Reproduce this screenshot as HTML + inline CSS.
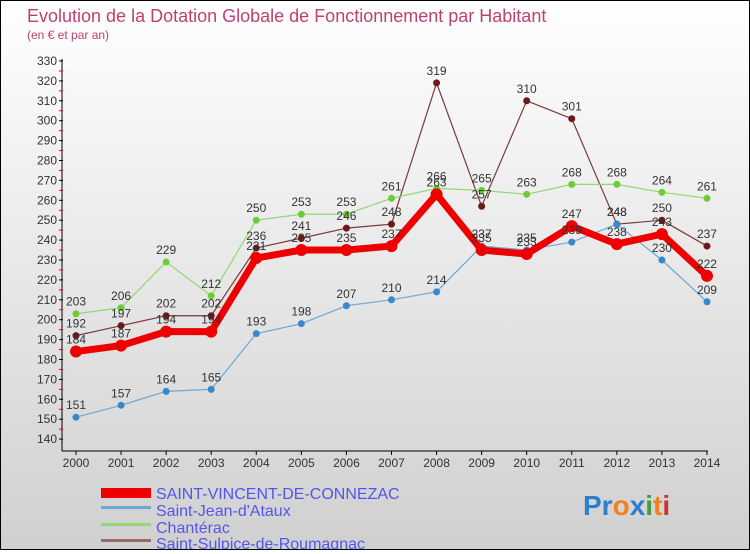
<!DOCTYPE html>
<html><head><meta charset="utf-8"><style>
body{margin:0;width:750px;height:550px;overflow:hidden;font-family:"Liberation Sans",sans-serif}
#wrap{position:relative;width:748px;height:548px;border:1px solid #000;background:linear-gradient(#ffffff,#d0d0d0)}
</style></head><body>
<div id="wrap">
<svg id="chart" width="748" height="548">
<text x="26" y="21" font-size="18" fill="#c0406f">Evolution de la Dotation Globale de Fonctionnement par Habitant</text>
<text x="26" y="38" font-size="12" fill="#c0406f">(en € et par an)</text>
<g id="axes"></g><g id="series"></g><g id="labels"></g>
<g>
<rect x="100" y="487" width="50" height="10" fill="#e00"/>
<text x="155" y="498" font-size="16" fill="#5555ee">SAINT-VINCENT-DE-CONNEZAC</text>
<rect x="100" y="505" width="50" height="3" fill="#6fa7d4"/>
<text x="155" y="515" font-size="16" fill="#5555ee">Saint-Jean-d'Ataux</text>
<rect x="100" y="522" width="50" height="3" fill="#90d870"/>
<text x="155" y="532" font-size="16" fill="#5555ee">Chantérac</text>
<rect x="100" y="538" width="50" height="3" fill="#9a6a6a"/>
<text x="155" y="548" font-size="16" fill="#5555ee">Saint-Sulpice-de-Roumagnac</text>
</g>
<text x="582" y="514" font-size="28" font-weight="bold"><tspan fill="#2a7fd0">Pr</tspan><tspan fill="#f08020">o</tspan><tspan fill="#2a7fd0">x</tspan><tspan fill="#40a040">i</tspan><tspan fill="#f08020">t</tspan><tspan fill="#d03030">i</tspan></text>
</svg></div>
<script>
const years=[2000,2001,2002,2003,2004,2005,2006,2007,2008,2009,2010,2011,2012,2013,2014];
const yTicks=[140,150,160,170,180,190,200,210,220,230,240,250,260,270,280,290,300,310,320,330];
const svc=[184,187,194,194,231,235,235,237,263,235,233,247,238,243,222];
const sja=[151,157,164,165,193,198,207,210,214,237,235,239,248,230,209];
const chan=[203,206,229,212,250,253,253,261,266,265,263,268,268,264,261];
const ssr=[192,197,202,202,236,241,246,248,319,257,310,301,248,250,237];
const NS="http://www.w3.org/2000/svg";
const X=i=>75+i*45.07, Y=v=>60+(330-v)*1.99;
function mk(p,t,a){const e=document.createElementNS(NS,t);for(const k in a)e.setAttribute(k,a[k]);p.appendChild(e);return e;}
const ax=document.getElementById('axes');
let yl=mk(ax,'line',{x1:61,y1:58,x2:61,y2:450,stroke:'#000'});


let xl=mk(ax,'line',{x1:61,y1:450,x2:707,y2:450,stroke:'#000'});


yTicks.forEach(v=>{
 mk(ax,'line',{x1:58,y1:Y(v),x2:62,y2:Y(v),stroke:'#000'});
 if(v<330) mk(ax,'line',{x1:58,y1:Y(v+5),x2:62,y2:Y(v+5),stroke:'#e00'});
 const t=mk(ax,'text',{x:56,y:Y(v)+4,'font-size':12,fill:'#333','text-anchor':'end'});t.textContent=v;
 
 
});
years.forEach((y,i)=>{
 mk(ax,'line',{x1:X(i),y1:450,x2:X(i),y2:454,stroke:'#000'});
 const t=mk(ax,'text',{x:X(i),y:466,'font-size':12,fill:'#333','text-anchor':'middle'});t.textContent=y;
 
 
});
const sg=document.getElementById('series'),lg=document.getElementById('labels');
function draw(data,color,w,r,name,dot){
 const pl=mk(sg,'polyline',{points:data.map((v,i)=>X(i)+','+Y(v)).join(' '),fill:'none',stroke:color,'stroke-width':w,'stroke-linejoin':'round'});
 
 
 data.forEach((v,i)=>{
  const c=mk(sg,'circle',{cx:X(i),cy:Y(v),r:r,fill:dot||color});
  
  
  const t=mk(lg,'text',{x:X(i),y:Y(v)-8,'font-size':12,fill:'#333','text-anchor':'middle'});t.textContent=v;
  
  
 });
}
draw(ssr,'#7a3a3a',1.2,3.5,'saint-sulpice','#6a1a1a');
draw(chan,'#90d870',1.2,3.5,'chanterac','#6ccc3a');
draw(sja,'#6fa7d4',1.2,3.5,'saint-jean','#3a88cc');
draw(svc,'#ee0000',7,6,'saint-vincent');
</script>
</body></html>
